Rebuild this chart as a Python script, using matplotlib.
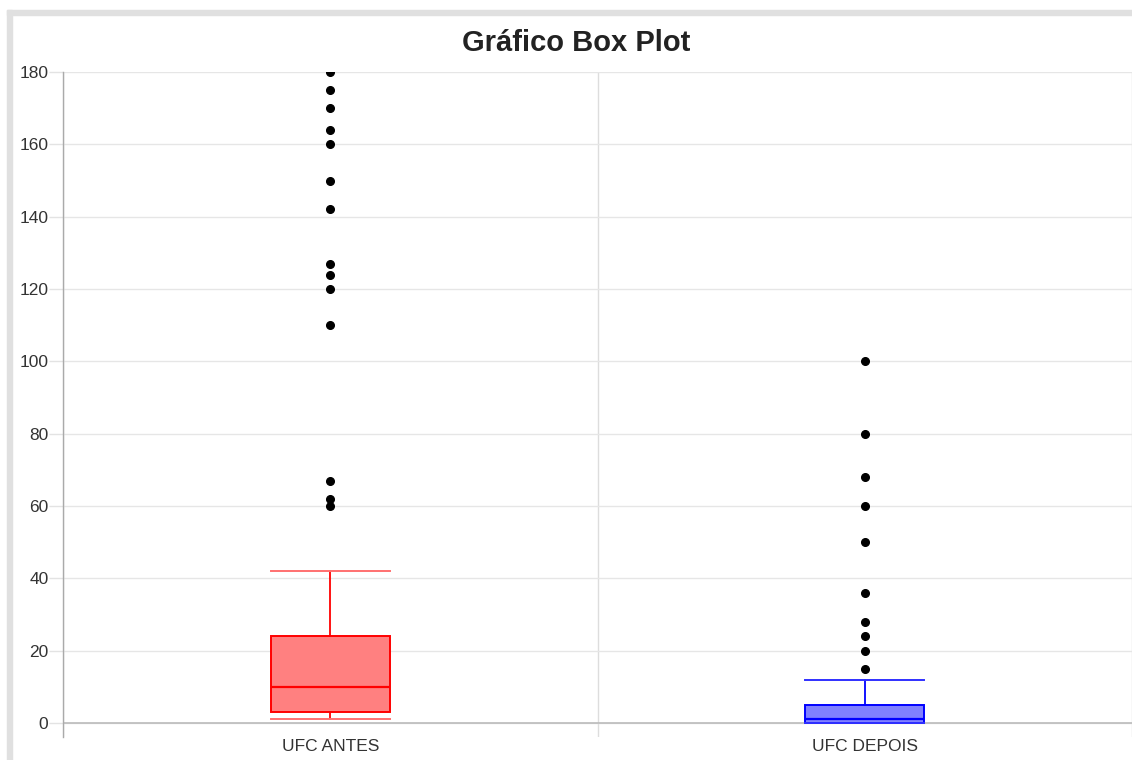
import matplotlib
matplotlib.use("Agg")
import matplotlib.pyplot as plt
from matplotlib.patches import Rectangle

plt.rcParams['font.family'] = ['Liberation Sans', 'DejaVu Sans']

categories = ["UFC ANTES", "UFC DEPOIS"]
q1 = [3, 0]
medians = [10, 1]
q3 = [24, 5]
whisker_low = [1, 0]
whisker_high = [42, 12]
outliers = [
    [180, 175, 170, 164, 160, 150, 142, 127, 124, 120, 110, 67, 62, 60],
    [100, 80, 68, 60, 50, 36, 28, 24, 20, 15],
]
face_colors = ["#ff8080", "#8080ff"]
edge_colors = ["#ff0000", "#0000ff"]
cap_colors = ["#ff7070", "#3030ff"]
y_ticks = list(range(0, 181, 20))

W, H = 1132, 760
fig = plt.figure(figsize=(W / 100, H / 100), dpi=100)

# panel border strips (left and top)
fig.patches.append(Rectangle((7 / W, 0), 5 / W, 1 - 10 / H, transform=fig.transFigure,
                             color="#e0e0e0", zorder=0))
fig.patches.append(Rectangle((7 / W, 1 - 15 / H), 1, 5 / H, transform=fig.transFigure,
                             color="#e0e0e0", zorder=0))

ax_left, ax_bottom, ax_top = 63 / W, (H - 737) / H, (H - 72) / H
ax = fig.add_axes([ax_left, ax_bottom, 1 - ax_left, ax_top - ax_bottom])

positions = [0.5, 1.5]
stats = []
for i, name in enumerate(categories):
    stats.append(dict(label=name, med=medians[i], q1=q1[i], q3=q3[i],
                      whislo=whisker_low[i], whishi=whisker_high[i],
                      fliers=outliers[i]))

for i, s in enumerate(stats):
    ax.bxp([s], positions=[positions[i]], widths=0.222, capwidths=0.222,
           patch_artist=True, manage_ticks=False,
           boxprops=dict(facecolor=face_colors[i], edgecolor=edge_colors[i], linewidth=1.4),
           medianprops=dict(color=edge_colors[i], linewidth=1.6),
           whiskerprops=dict(color=edge_colors[i], linewidth=1.3),
           capprops=dict(color=cap_colors[i], linewidth=1.4),
           flierprops=dict(marker='o', markerfacecolor='black', markeredgecolor='black',
                           markersize=5.5))

span = (W - 63) / 537
ax.set_xlim(0, span)
ax.set_ylim(-14 / 3.617, 180)

ax.set_xticks(positions)
ax.set_xticklabels(categories)
ax.set_xticks([0, 1, 2], minor=True)
ax.tick_params(axis='x', which='major', length=0, pad=1.5, labelsize=12.5, labelcolor="#333333")
ax.tick_params(axis='x', which='minor', length=0)
ax.grid(True, axis='x', which='minor', color="#dddddd", linewidth=1)

ax.set_yticks(y_ticks)
ax.tick_params(axis='y', length=10, width=1, color="#e3e3e3", pad=0.5,
               labelsize=12.5, labelcolor="#333333")
ax.grid(True, axis='y', color="#e6e6e6", linewidth=1)
ax.set_axisbelow(True)

for side in ["top", "right", "bottom"]:
    ax.spines[side].set_visible(False)
ax.spines["left"].set_color("#aaaaaa")
ax.spines["left"].set_linewidth(1)
ax.axhline(0, color="#bbbbbb", linewidth=1.2, zorder=1)

fig.text(576 / W, 1 - 51 / H, "Gráfico Box Plot", ha='center', va='baseline',
         fontsize=21, fontweight='bold', color="#222222")

fig.savefig("out.png", dpi=100)
